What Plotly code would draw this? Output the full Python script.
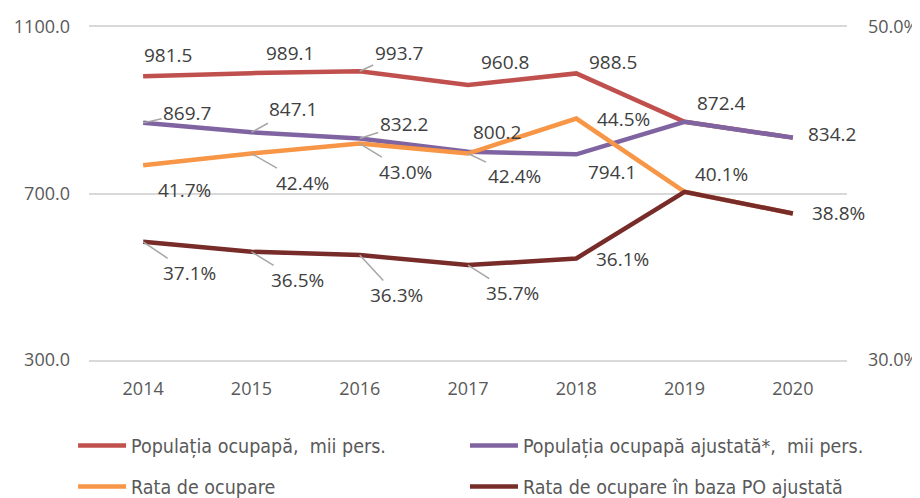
"""Employment population and employment rate, 2014-2020."""

from __future__ import annotations

import plotly.graph_objects as go

# Data
YEARS: list[str] = ["2014", "2015", "2016", "2017", "2018", "2019", "2020"]

POP_OCUPATA: list[float] = [981.5, 989.1, 993.7, 960.8, 988.5, 872.4, 834.2]
POP_AJUSTATA: list[float] = [869.7, 847.1, 832.2, 800.2, 794.1, 872.4, 834.2]
RATA_OCUPARE: list[float] = [41.7, 42.4, 43.0, 42.4, 44.5, 40.1, 38.8]
RATA_AJUSTATA: list[float] = [37.1, 36.5, 36.3, 35.7, 36.1, 40.1, 38.8]

NAMES: list[str] = [
    "Populația ocupapă,  mii pers.",
    "Populația ocupapă ajustată*,  mii pers.",
    "Rata de ocupare",
    "Rata de ocupare în baza PO ajustată",
]

# Style
COLORS: list[str] = ["#C0504D", "#8064A2", "#F79646", "#772C2A"]
FONT = "Open Sans, Liberation Sans, sans-serif"
LEGEND_FONT = "Liberation Sans Narrow, DejaVu Sans Condensed, Open Sans, sans-serif"
LABEL_COLOR = "#404040"
TICK_COLOR = "#595959"
GRID_COLOR = "#D9D9D9"
LEADER_COLOR = "#A6A6A6"

# Label placement per series: (dx, dy, leader line) in pixels, None = no label
OFFSETS: list[list[tuple[int, int, bool] | None]] = [
    [(25, -21, False), (39, -20, False), (39, -18, True), (37, -23, False),
     (37, -11, False), (37, -19, False), None],
    [(44, -10, True), (42, -23, True), (44, -14, True), (29, -20, False),
     (36, 18, False), None, (39, -4, False)],
    [(41, 25, False), (51, 29, True), (46, 28, True), (46, 22, True),
     (47, 0, False), (37, -18, False), None],
    [(46, 31, True), (46, 28, True), (37, 40, True), (44, 28, True),
     (46, 1, False), None, (46, 0, False)],
]

# Legend boxes (paper coords): one single-item legend per series
LEGEND_POS: list[tuple[float, float]] = [
    (-0.021, -0.258),
    (0.496, -0.258),
    (-0.021, -0.381),
    (0.496, -0.381),
]

series = [POP_OCUPATA, POP_AJUSTATA, RATA_OCUPARE, RATA_AJUSTATA]
axes = ["y", "y", "y2", "y2"]
fmt = ["{:.1f}", "{:.1f}", "{:.1f}%", "{:.1f}%"]
legend_ids = ["legend", "legend2", "legend3", "legend4"]

fig = go.Figure()
annotations = []

for i, values in enumerate(series):
    fig.add_trace(
        go.Scatter(
            x=YEARS,
            y=values,
            name=NAMES[i],
            mode="lines",
            line={"color": COLORS[i], "width": 4.5},
            yaxis=axes[i],
            legend=legend_ids[i],
            hoverinfo="skip",
        )
    )
    for idx, (value, off) in enumerate(zip(values, OFFSETS[i])):
        if off is None:
            continue
        dx, dy, leader = off
        annotations.append(
            {
                "x": idx,  # category index
                "y": value,
                "xref": "x",
                "yref": axes[i],
                "text": fmt[i].format(value),
                "showarrow": True,
                "arrowhead": 0,
                "arrowwidth": 1.5,
                "arrowcolor": LEADER_COLOR if leader else "rgba(0,0,0,0)",
                "standoff": 0,
                "ax": dx,
                "ay": dy,
                "font": {"family": FONT, "size": 19, "color": LABEL_COLOR},
            }
        )

legends = {}
for lid, (lx, ly) in zip(legend_ids, LEGEND_POS):
    legends[lid] = {
        "orientation": "h",
        "x": lx,
        "y": ly,
        "xanchor": "left",
        "yanchor": "middle",
        "itemwidth": 48,
        "bgcolor": "rgba(0,0,0,0)",
        "font": {"family": LEGEND_FONT, "size": 19.5, "color": TICK_COLOR},
    }

# The page adds an 8px body margin, so the figure is 8px smaller each way
fig.update_layout(
    width=912,
    height=490,
    paper_bgcolor="white",
    plot_bgcolor="white",
    margin={"l": 81, "r": 73, "t": 19, "b": 138, "pad": 0, "autoexpand": False},
    font={"family": FONT, "size": 18, "color": TICK_COLOR},
    showlegend=True,
    annotations=annotations,
    xaxis={
        "type": "category",
        "range": [-0.5, len(YEARS) - 0.5],
        "showgrid": False,
        # bottom/top lines act as the 300 and 1100 gridlines
        "showline": True,
        "mirror": True,
        "linecolor": GRID_COLOR,
        "linewidth": 1.5,
        "ticks": "",
        "ticklabelstandoff": 12,
        "tickfont": {"size": 18, "color": TICK_COLOR},
    },
    yaxis={
        "range": [300, 1100],
        "tick0": 300,
        "dtick": 400,
        "tickformat": ".1f",
        "showgrid": True,
        "gridcolor": GRID_COLOR,
        "gridwidth": 1.5,
        "zeroline": False,
        "showline": False,
        "ticklabelstandoff": 18,
        "tickfont": {"size": 18, "color": TICK_COLOR},
    },
    yaxis2={
        "range": [30, 50],
        "tick0": 30,
        "dtick": 20,
        "tickformat": ".1f",
        "ticksuffix": "%",
        "overlaying": "y",
        "side": "right",
        "showgrid": False,
        "zeroline": False,
        "showline": False,
        "ticklabelstandoff": 20,
        "tickfont": {"size": 18, "color": TICK_COLOR},
    },
    **legends,
)

fig.write_html("out.html")
